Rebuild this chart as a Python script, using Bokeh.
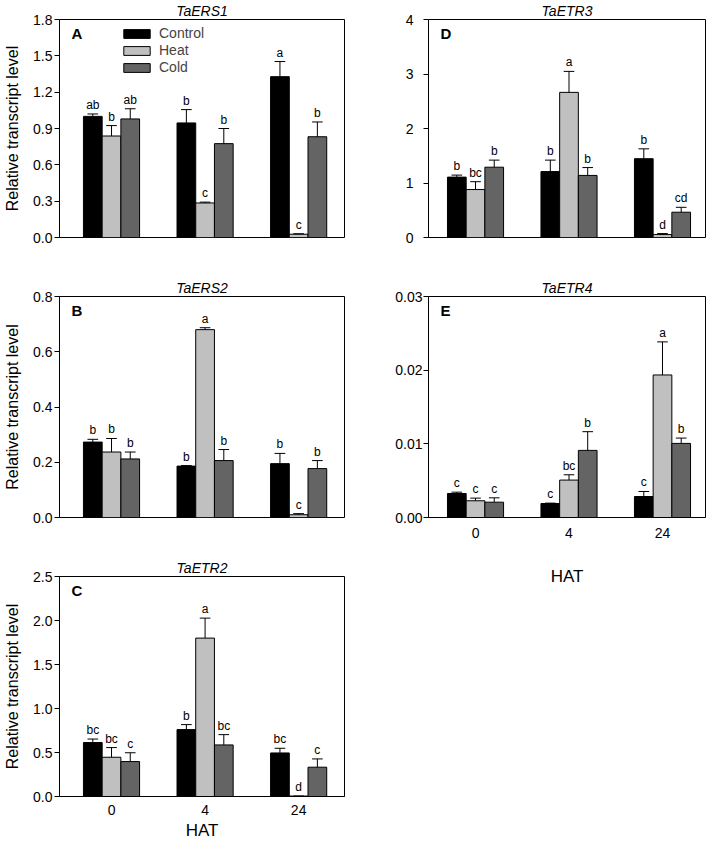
import numpy as np
from bokeh.plotting import figure
from bokeh.models import Range1d, FixedTicker, Label, Legend, LegendItem, ColumnDataSource, NumeralTickFormatter
from bokeh.layouts import row, column
from bokeh.embed import file_html
from bokeh.resources import INLINE
from bokeh.core.properties import value

FONT = "Liberation Sans"

# ---------------- data ----------------
hat_labels = ["0", "4", "24"]
treatments = ["Control", "Heat", "Cold"]
bar_colors = ["#000000", "#c0c0c0", "#646464"]

# Panel A: TaERS1
ers1_control = [1.00, 0.946, 1.328]
ers1_control_err = [0.02, 0.11, 0.125]
ers1_heat = [0.838, 0.285, 0.027]
ers1_heat_err = [0.086, 0.007, 0.004]
ers1_cold = [0.979, 0.775, 0.832]
ers1_cold_err = [0.084, 0.125, 0.122]
ers1_letters = [["ab", "b", "a"], ["b", "c", "c"], ["ab", "b", "b"]]
ers1_ticks = [0, 0.3, 0.6, 0.9, 1.2, 1.5, 1.8]

# Panel B: TaERS2
ers2_control = [0.273, 0.186, 0.195]
ers2_control_err = [0.010, 0.002, 0.037]
ers2_heat = [0.237, 0.680, 0.010]
ers2_heat_err = [0.049, 0.007, 0.004]
ers2_cold = [0.212, 0.206, 0.177]
ers2_cold_err = [0.025, 0.040, 0.029]
ers2_letters = [["b", "b", "b"], ["b", "a", "c"], ["b", "b", "b"]]
ers2_ticks = [0, 0.2, 0.4, 0.6, 0.8]

# Panel C: TaETR2
etr2_control = [0.613, 0.76, 0.495]
etr2_control_err = [0.04, 0.057, 0.053]
etr2_heat = [0.446, 1.80, 0.005]
etr2_heat_err = [0.11, 0.227, 0.0]
etr2_cold = [0.397, 0.586, 0.333]
etr2_cold_err = [0.10, 0.117, 0.094]
etr2_letters = [["bc", "b", "bc"], ["bc", "a", "d"], ["c", "bc", "c"]]
etr2_ticks = [0, 0.5, 1.0, 1.5, 2.0, 2.5]

# Panel D: TaETR3
etr3_control = [1.108, 1.21, 1.446]
etr3_control_err = [0.037, 0.21, 0.181]
etr3_heat = [0.88, 2.663, 0.054]
etr3_heat_err = [0.144, 0.385, 0.018]
etr3_cold = [1.29, 1.139, 0.464]
etr3_cold_err = [0.13, 0.144, 0.09]
etr3_letters = [["b", "b", "b"], ["bc", "a", "d"], ["b", "b", "cd"]]
etr3_ticks = [0, 1, 2, 3, 4]

# Panel E: TaETR4
etr4_control = [0.00326, 0.0019, 0.00285]
etr4_control_err = [0.00018, 0.00005, 0.00068]
etr4_heat = [0.00227, 0.00508, 0.01935]
etr4_heat_err = [0.00036, 0.00072, 0.00449]
etr4_cold = [0.00208, 0.00911, 0.01006]
etr4_cold_err = [0.00059, 0.00254, 0.00072]
etr4_letters = [["c", "c", "c"], ["c", "bc", "a"], ["c", "b", "b"]]
etr4_ticks = [0, 0.01, 0.02, 0.03]


def panel(title, letter, means, errs, letters, ticks, fmt, xr, w, h,
          borders, show_x, ylabel, tick_standoff, xstand=(8, 3), legend=False):
    left, right, top, bottom = borders
    p = figure(width=w, height=h, x_range=Range1d(*xr),
               y_range=Range1d(ticks[0], ticks[-1]),
               output_backend="svg", toolbar_location=None,
               min_border_left=left, min_border_right=right,
               min_border_top=top, min_border_bottom=bottom,
               background_fill_color="white", border_fill_color="white")
    p.title.text = title
    p.title.text_font = FONT
    p.title.text_font_style = "italic"
    p.title.text_font_size = "14px"
    p.title.align = "center"
    p.title.standoff = 1
    p.title.text_color = "black"
    p.grid.visible = False
    p.outline_line_color = "black"
    p.outline_line_width = 1
    p.outline_line_alpha = 1

    ya = p.yaxis[0]
    ya.ticker = FixedTicker(ticks=ticks)
    ya.formatter = NumeralTickFormatter(format=fmt)
    ya.major_tick_in = 0
    ya.major_tick_out = 5
    ya.minor_tick_line_color = None
    ya.major_label_text_font = FONT
    ya.major_label_text_font_size = "14px"
    ya.major_label_text_color = "black"
    ya.major_label_standoff = tick_standoff
    ya.axis_line_color = "black"
    ya.major_tick_line_color = "black"
    if ylabel:
        ya.axis_label = ylabel
        ya.axis_label_text_font = FONT
        ya.axis_label_text_font_style = "normal"
        ya.axis_label_text_font_size = "16px"
        ya.axis_label_text_color = "black"
        ya.axis_label_standoff = 9

    xa = p.xaxis[0]
    if show_x:
        xa.ticker = FixedTicker(ticks=[0, 1, 2])
        xa.major_label_overrides = {i: s for i, s in enumerate(hat_labels)}
        xa.major_tick_in = 0
        xa.major_tick_out = 0
        xa.minor_tick_line_color = None
        xa.major_label_text_font = FONT
        xa.major_label_text_font_size = "14px"
        xa.major_label_text_color = "black"
        xa.major_label_standoff = xstand[0]
        xa.axis_label = "HAT"
        xa.axis_label_text_font = FONT
        xa.axis_label_text_font_style = "normal"
        xa.axis_label_text_font_size = "17px"
        xa.axis_label_text_color = "black"
        xa.axis_label_standoff = xstand[1]
        xa.axis_line_color = "black"
    else:
        xa.visible = False

    positions = np.arange(len(hat_labels))
    offsets = [-0.2, 0.0, 0.2]
    rends = []
    for i in range(3):
        xs = positions + offsets[i]
        m = np.array(means[i], dtype=float)
        e = np.array(errs[i], dtype=float)
        src = ColumnDataSource(dict(x=xs, top=m, up=m + e,
                                    x0=xs - 0.057, x1=xs + 0.057,
                                    lab=letters[i]))
        r = p.vbar(x="x", top="top", bottom=0, width=0.2, source=src,
                   fill_color=bar_colors[i], line_color="black", line_width=1)
        rends.append(r)
        p.segment(x0="x", y0="top", x1="x", y1="up", source=src,
                  line_color="black", line_width=1)
        p.segment(x0="x0", y0="up", x1="x1", y1="up", source=src,
                  line_color="black", line_width=1)
        p.text(x="x", y="up", text="lab", source=src, text_align="center",
               text_baseline="bottom", y_offset=-2,
               text_font=value(FONT), text_font_size="12px", text_color="black")

    p.add_layout(Label(x=xr[0], y=ticks[-1], x_offset=12, y_offset=-5,
                       text=letter, text_font=FONT, text_font_style="bold",
                       text_font_size="15px", text_baseline="top",
                       text_color="black"))

    if legend:
        items = [LegendItem(label=t, renderers=[r]) for t, r in zip(treatments, rends)]
        lg = Legend(items=items, location=(61, 162), glyph_width=33, glyph_height=11,
                    label_text_font=FONT, label_text_font_size="14px",
                    label_standoff=6, label_height=11, spacing=1, padding=0,
                    margin=0, border_line_color=None, background_fill_alpha=0)
        p.add_layout(lg)
    return p


xr_left = (-0.556, 2.49)
xr_right = (-0.503, 2.46)
ylab = "Relative transcript level"

pA = panel("TaERS1", "A", [ers1_control, ers1_heat, ers1_cold],
           [ers1_control_err, ers1_heat_err, ers1_cold_err], ers1_letters,
           ers1_ticks, "0.0", xr_left, 355, 270, (59, 11, 16, 33), False, ylab, 2, legend=True)
pB = panel("TaERS2", "B", [ers2_control, ers2_heat, ers2_cold],
           [ers2_control_err, ers2_heat_err, ers2_cold_err], ers2_letters,
           ers2_ticks, "0.0", xr_left, 355, 278, (59, 11, 26, 31), False, ylab, 2)
pC = panel("TaETR2", "C", [etr2_control, etr2_heat, etr2_cold],
           [etr2_control_err, etr2_heat_err, etr2_cold_err], etr2_letters,
           etr2_ticks, "0.0", xr_left, 355, 295, (59, 11, 28, 47), True, ylab, 2, xstand=(8, 3))
pD = panel("TaETR3", "D", [etr3_control, etr3_heat, etr3_cold],
           [etr3_control_err, etr3_heat_err, etr3_cold_err], etr3_letters,
           etr3_ticks, "0", xr_right, 354, 270, (73, 4, 16, 33), False, None, 10)
pE = panel("TaETR4", "E", [etr4_control, etr4_heat, etr4_cold],
           [etr4_control_err, etr4_heat_err, etr4_cold_err], etr4_letters,
           etr4_ticks, "0.00", xr_right, 354, 320, (73, 4, 26, 73), True, None, 1, xstand=(10, 26))

layout = row(column(pA, pB, pC), column(pD, pE))
open("out.html", "w").write(file_html(layout, INLINE))
